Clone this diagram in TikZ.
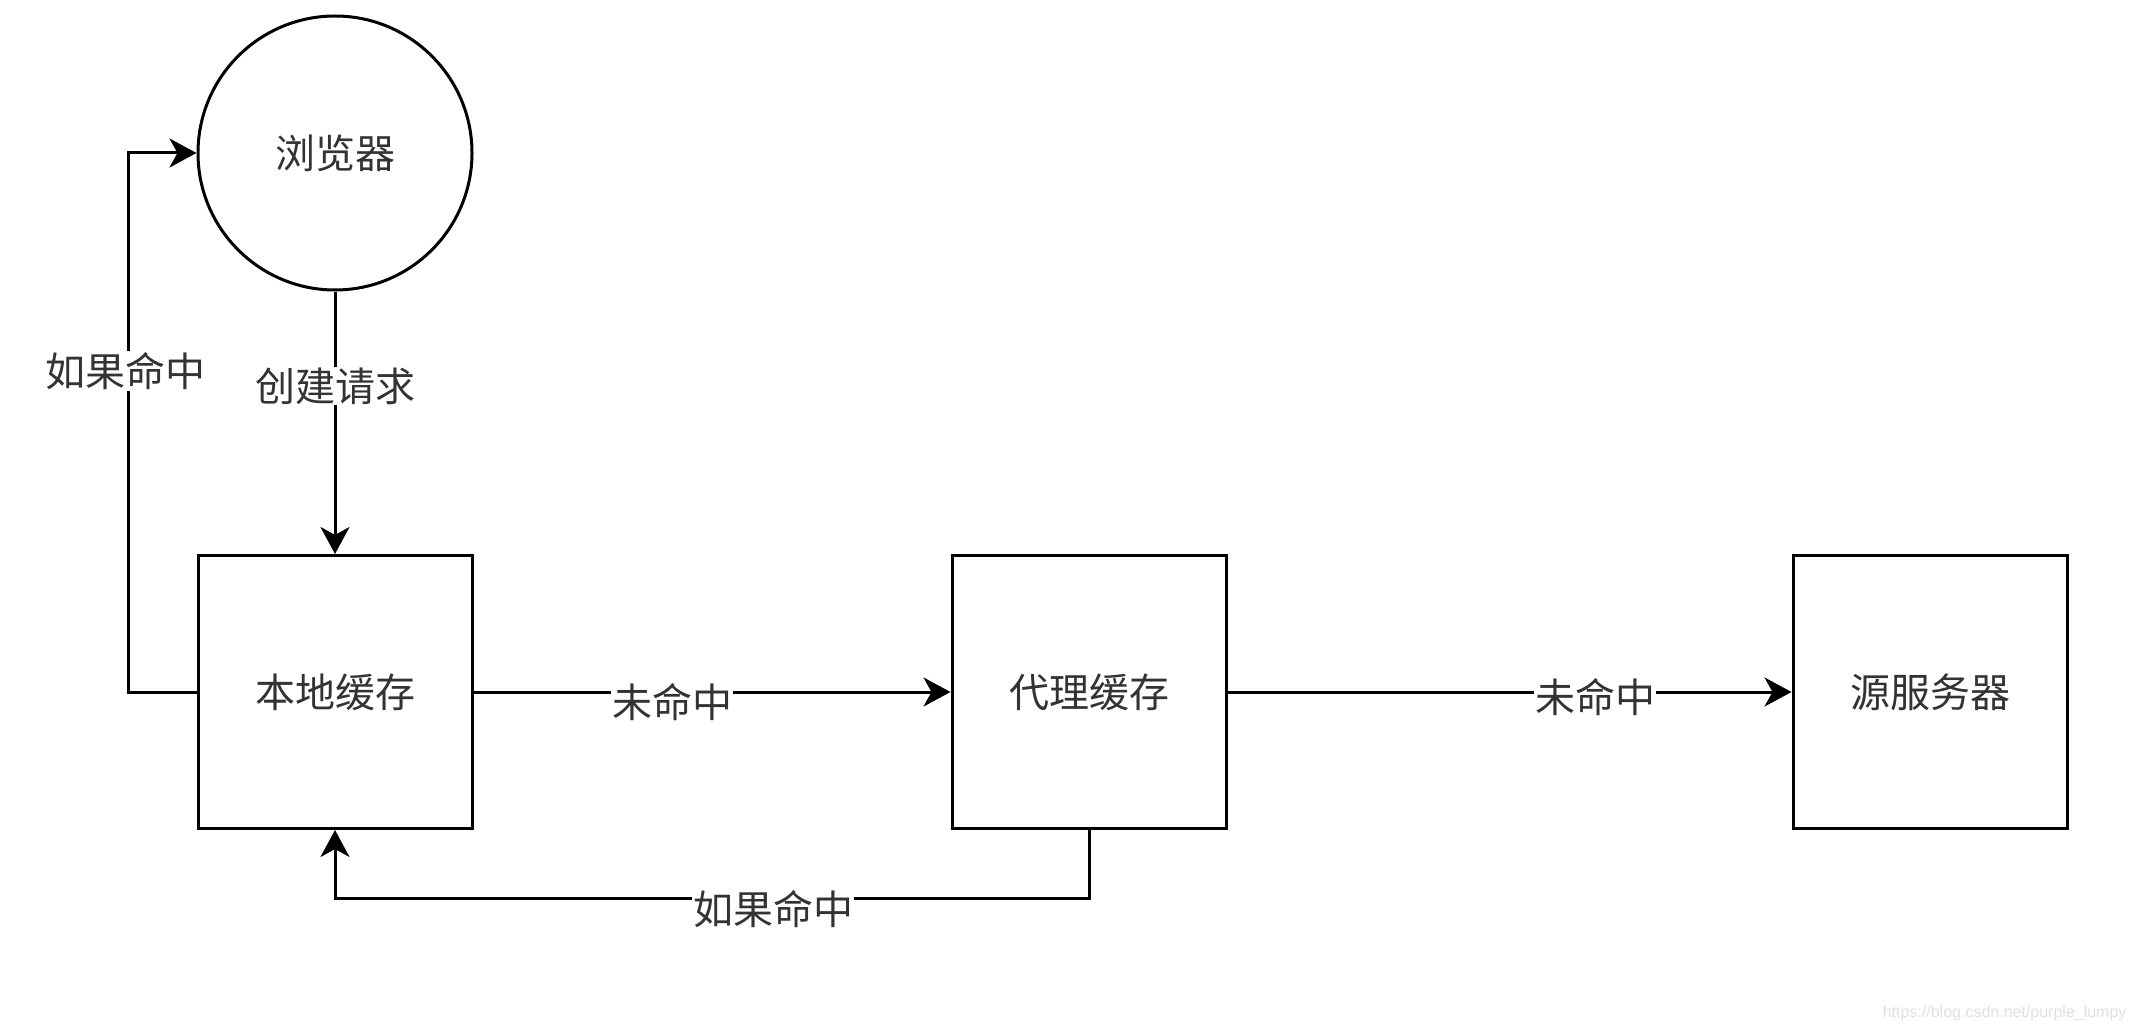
\documentclass[tikz,border=0pt]{standalone}
\usepackage{fontspec}
\newfontfamily\cjk{Noto Sans CJK SC}
\usetikzlibrary{arrows.meta,shapes.geometric}
\begin{document}
\begin{tikzpicture}[x=1pt,y=-1pt,
  every node/.style={font=\cjk\fontsize{40}{48}\selectfont, text=black!80},
  boxnode/.style={draw=black, line width=3pt, minimum width=274pt, minimum height=273pt, inner sep=0pt, fill=white},
  circnode/.style={draw=black, line width=3pt, circle, minimum size=274pt, inner sep=0pt},
  conn/.style={draw=black, line width=3pt, -{Stealth[length=27pt,width=29pt,inset=8pt]}},
  lbl/.style={fill=white, inner sep=1pt}]
\useasboundingbox (0,0) rectangle (2138,1032);
\fill[white] (0,0) rectangle (2138,1032);
\node[circnode] (circ) at (335,153) {浏览器};
\node[boxnode] (b1) at (335,692) {本地缓存};
\node[boxnode] (b2) at (1089,692) {代理缓存};
\node[boxnode] (b3) at (1930,692) {源服务器};
\draw[conn] (circ) -- (b1) node[lbl, pos=0.36] (l1) {创建请求};
\draw[conn] (b1.west) -- ++(-68,0) coordinate (c1) |- (circ.west);
\node[lbl] (l2) at (125,371) {如果命中};
\draw[conn] (b1.east) -- (b2.west);
\node[lbl] (l3) at (672,702) {未命中};
\draw[conn] (b2.east) -- (b3.west);
\node[lbl] (l4) at (1595,697) {未命中};
\draw[conn] (b2.south) -- ++(0,68) coordinate (c2) -| (b1.south);
\node[lbl] (l5) at (773,909) {如果命中};
\node[font=\fontspec{Liberation Sans}\fontsize{16}{18}\selectfont, text=black!12, anchor=east] (wm) at (2130,1013) {https://blog.csdn.net/purple\_lumpy};
\end{tikzpicture}
\end{document}
